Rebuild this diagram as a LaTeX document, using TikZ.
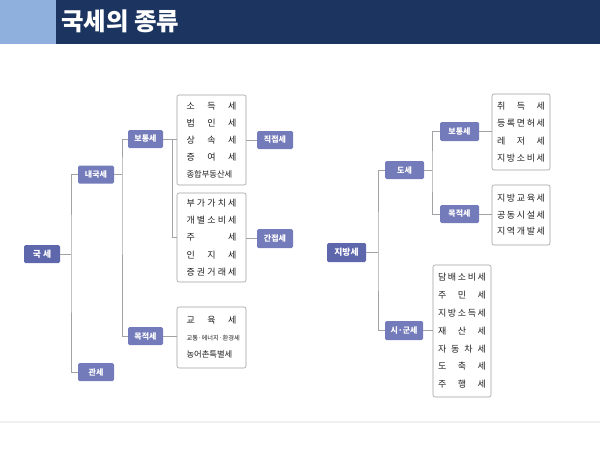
\documentclass[tikz,border=0pt]{standalone}
\usepackage{fontspec}
\setmainfont{Noto Sans CJK KR}
\usetikzlibrary{positioning}
\definecolor{navy}{HTML}{1B3560}
\definecolor{skyband}{HTML}{8FB0DC}
\definecolor{taxfill}{HTML}{747BBA}
\definecolor{rootfill}{HTML}{5E66AC}
\definecolor{wire}{HTML}{A2A2A6}
\newcommand{\jline}[1]{\makebox[50pt][s]{#1}}
\newcommand{\rline}[1]{\makebox[48pt][s]{#1}}
\tikzset{
  taxnode/.style={fill=taxfill, rounded corners=1.5pt, text=white, font=\bfseries\fontsize{8}{8}\selectfont, inner sep=0pt, minimum width=36pt, minimum height=18pt},
  rootnode/.style={taxnode, fill=rootfill, font=\bfseries\fontsize{8.8}{8}\selectfont},
  listbox/.style={draw=gray!75, line width=0.6pt, rounded corners=2pt, align=center, inner sep=0pt, text=black!88},
  wired/.style={draw=wire, line width=0.8pt}
}
\begin{document}
\begin{tikzpicture}[x=1pt, y=-1pt]
  \useasboundingbox (0,0) rectangle (600,450);

  % title band
  \fill [skyband] (0,0) rectangle (56,44);
  \fill [navy] (56,0) rectangle (600,44);
  \node [anchor=west, text=white, font=\bfseries\fontsize{24.5}{24}\selectfont, inner sep=0pt] (title) at (61,21) {국세의 종류};
  \draw [gray!12, line width=1.5pt] (0,422) -- (600,422);

  % national taxes
  \node [rootnode] (guk) at (42,254) {국 세};
  \node [taxnode] (naeguk) at (96,174.5) {내국세};
  \node [taxnode] (gwan) at (96,372) {관세};
  \node [taxnode, minimum width=35pt] (botongL) at (145.5,139) {보통세};
  \node [taxnode, minimum width=35pt] (mokjeokL) at (145.5,336) {목적세};
  \node [taxnode] (jikjeop) at (275,140) {직접세};
  \node [taxnode, minimum height=19pt] (ganjeop) at (275,238.5) {간접세};

  \node [listbox, minimum width=69pt, minimum height=90pt, font=\fontsize{9}{17.2}\selectfont] (dirbox) at (211.5,140)
    {\jline{소\hfill 득\hfill 세}\\ \jline{법\hfill 인\hfill 세}\\ \jline{상\hfill 속\hfill 세}\\ \jline{증\hfill 여\hfill 세}\\ \jline{\fontsize{8.3}{8}\selectfont 종합부동산세}};
  \node [listbox, minimum width=69pt, minimum height=89pt, font=\fontsize{9}{17.2}\selectfont] (indbox) at (211.5,237.5)
    {\jline{부\hfill 가\hfill 가\hfill 치\hfill 세}\\ \jline{개\hfill 별\hfill 소\hfill 비\hfill 세}\\ \jline{주\hfill 세}\\ \jline{인\hfill 지\hfill 세}\\ \jline{증\hfill 권\hfill 거\hfill 래\hfill 세}};
  \node [listbox, minimum width=69pt, minimum height=61pt, font=\fontsize{9}{17}\selectfont] (purbox) at (211.5,337.5)
    {\jline{교\hfill 육\hfill 세}\\ \jline{\fontsize{6.3}{6}\selectfont 교통·에너지·환경세}\\ \jline{\fontsize{8.3}{8}\selectfont 농어촌특별세}};

  \coordinate (jg) at (71,254);
  \coordinate (jn) at (122,174.5);
  \coordinate (jb) at (172,139);
  \draw [wired] (guk.east) -- (jg);
  \draw [wired] (naeguk.west) -| (jg) |- (gwan.west);
  \draw [wired] (naeguk.east) -- (jn);
  \draw [wired] (botongL.west) -| (jn) |- (mokjeokL.west);
  \draw [wired] (botongL.east) -- (dirbox.west |- botongL.east);
  \draw [wired] (jb) |- (indbox.west);
  \draw [wired] (dirbox.east) -- (jikjeop.west);
  \draw [wired] (indbox.east |- ganjeop.west) -- (ganjeop.west);
  \draw [wired] (mokjeokL.east) -- (purbox.west |- mokjeokL.east);

  % local taxes
  \node [rootnode, minimum width=39pt, minimum height=19pt] (jibang) at (346.5,252.5) {지방세};
  \node [taxnode, minimum width=39pt] (dose) at (404.5,170) {도세};
  \node [taxnode, minimum width=38pt, minimum height=19pt] (sigun) at (404,330.5) {시·군세};
  \node [taxnode, minimum width=39pt, minimum height=19pt] (botongR) at (459.5,131.5) {보통세};
  \node [taxnode, minimum width=39pt] (mokjeokR) at (459.5,214) {목적세};

  \node [listbox, minimum width=58pt, minimum height=76pt, font=\fontsize{9}{17.3}\selectfont] (dobox) at (521,132)
    {\rline{취\hfill 득\hfill 세}\\ \rline{등\hfill 록\hfill 면\hfill 허\hfill 세}\\ \rline{레\hfill 저\hfill 세}\\ \rline{지\hfill 방\hfill 소\hfill 비\hfill 세}};
  \node [listbox, minimum width=58pt, minimum height=60pt, font=\fontsize{9}{16.6}\selectfont] (dopurbox) at (521,215)
    {\rline{지\hfill 방\hfill 교\hfill 육\hfill 세}\\ \rline{공\hfill 동\hfill 시\hfill 설\hfill 세}\\ \rline{지\hfill 역\hfill 개\hfill 발\hfill 세}};
  \node [listbox, minimum width=58pt, minimum height=132pt, font=\fontsize{9}{17.8}\selectfont] (sigunbox) at (462,331)
    {\rline{담\hfill 배\hfill 소\hfill 비\hfill 세}\\ \rline{주\hfill 민\hfill 세}\\ \rline{지\hfill 방\hfill 소\hfill 득\hfill 세}\\ \rline{재\hfill 산\hfill 세}\\ \rline{자\hfill 동\hfill 차\hfill 세}\\ \rline{도\hfill 축\hfill 세}\\ \rline{주\hfill 행\hfill 세}};

  \coordinate (jj) at (378,252.5);
  \coordinate (jd) at (432,170);
  \draw [wired] (jibang.east) -- (jj);
  \draw [wired] (dose.west) -| (jj) |- (sigun.west);
  \draw [wired] (dose.east) -- (jd);
  \draw [wired] (botongR.west) -| (jd) |- (mokjeokR.west);
  \draw [wired] (botongR.east) -- (dobox.west |- botongR.east);
  \draw [wired] (mokjeokR.east) -- (dopurbox.west |- mokjeokR.east);
  \draw [wired] (sigun.east) -- (sigunbox.west |- sigun.east);
\end{tikzpicture}
\end{document}
